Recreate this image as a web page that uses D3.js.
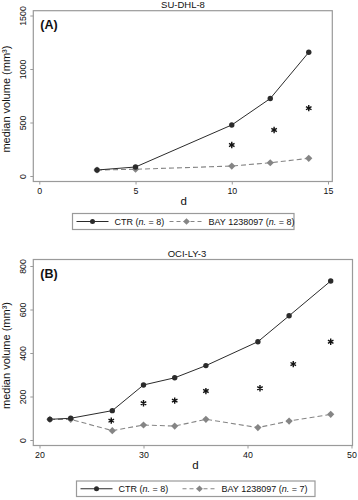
<!DOCTYPE html>
<html><head><meta charset="utf-8">
<script src="https://cdn.jsdelivr.net/npm/d3@7"></script>
<style>
html,body{margin:0;padding:0;background:#fff;}
svg{display:block;font-family:"Liberation Sans",Arial,Helvetica,sans-serif;}
</style></head>
<body><svg id="chart" width="358" height="500"></svg>
<script>
// ---- Data ----
const panelTitles = ["SU-DHL-8", "OCI-LY-3"];
const panelLetters = ["(A)", "(B)"];
const seriesNames = ["CTR", "BAY 1238097"];
const groupSizesA = [8, 8];
const groupSizesB = [8, 7];

const daysA = [3, 5, 10, 12, 14];
const ctrA = [56, 84, 477, 724, 1156];
const bayA = [56, 63, 93, 124, 165];
const starDaysA = [10, 12.2, 14];
const starValsA = [290, 430, 634];
const xTicksA = [0, 5, 10, 15];
const yTicksA = [0, 500, 1000, 1500];

const daysB = [21, 23, 27, 30, 33, 36, 41, 44, 48];
const ctrB = [95, 100, 135, 253, 286, 342, 452, 571, 731];
const bayB = [95, 95, 43, 69, 64, 95, 57, 87, 118];
const starDaysB = [26.9, 30, 33, 36, 41.2, 44.4, 48];
const starValsB = [89, 169, 181, 225, 238, 349, 452];
const xTicksB = [20, 30, 40, 50];
const yTicksB = [0, 200, 400, 600, 800];

const xLabel = "d";
const yLabel = "median volume (mm\u00B3)";

// ---- Drawing ----
const svg = d3.select("#chart");
const ctrColor = "#2b2b2b";
const bayColor = "#858585";
const frameColor = "#9a9a9a";

function drawPanel(p) {
  const g = svg.append("g");
  const x = d3.scaleLinear().domain(p.xDomain).range(p.xRange);
  const y = d3.scaleLinear().domain(p.yDomain).range(p.yRange);

  // plot frame
  g.append("rect").attr("x", p.box[0]).attr("y", p.box[1])
    .attr("width", p.box[2] - p.box[0]).attr("height", p.box[3] - p.box[1])
    .attr("fill", "none").attr("stroke", frameColor).attr("stroke-width", 1.2);

  // y axis
  const yAxis = d3.axisLeft(y).tickValues(p.yTicks).tickSize(3).tickPadding(4).tickFormat(d3.format("d"));
  const ya = g.append("g").attr("transform", `translate(${p.box[0]},0)`).call(yAxis);
  ya.select(".domain").remove();
  ya.selectAll(".tick line").attr("stroke", frameColor);
  ya.selectAll(".tick text")
    .attr("font-size", 8.8).attr("fill", "#111").attr("font-family", "Liberation Sans, Arial, sans-serif")
    .attr("text-anchor", "middle").attr("x", null).attr("dy", null)
    .attr("transform", "translate(-7,0) rotate(-90)");

  // x axis
  const xAxis = d3.axisBottom(x).tickValues(p.xTicks).tickSize(3).tickPadding(3).tickFormat(d3.format("d"));
  const xa = g.append("g").attr("transform", `translate(0,${p.box[3]})`).call(xAxis);
  xa.select(".domain").remove();
  xa.selectAll(".tick line").attr("stroke", frameColor);
  xa.selectAll(".tick text").attr("font-size", 8.8).attr("fill", "#111")
    .attr("font-family", "Liberation Sans, Arial, sans-serif");

  // titles
  g.append("text").attr("x", p.titleX).attr("y", p.titleY).attr("text-anchor", "middle")
    .attr("font-size", 9.5).attr("fill", "#111").text(p.title);
  g.append("text").attr("x", p.box[0] + 7).attr("y", p.box[1] + 18).attr("font-size", 12.5)
    .attr("font-weight", "bold").attr("fill", "#111").text(p.letter);
  g.append("text").attr("x", (p.xRange[0] + p.xRange[1]) / 2).attr("y", p.box[3] + 23)
    .attr("text-anchor", "middle").attr("font-size", 11.5).attr("fill", "#111").text(xLabel);
  g.append("text").attr("transform", `translate(10,${(p.box[1] + p.box[3]) / 2 + 3}) rotate(-90)`)
    .attr("text-anchor", "middle").attr("font-size", 11).attr("fill", "#111").text(yLabel);

  // lines
  const line = d3.line().x(d => x(d[0])).y(d => y(d[1]));
  const ctrPts = p.days.map((d, i) => [d, p.ctr[i]]);
  const bayPts = p.days.map((d, i) => [d, p.bay[i]]);
  g.append("path").attr("d", line(bayPts)).attr("fill", "none").attr("stroke", bayColor)
    .attr("stroke-width", 1.1).attr("stroke-dasharray", "5,3");
  g.append("path").attr("d", line(ctrPts)).attr("fill", "none").attr("stroke", ctrColor)
    .attr("stroke-width", 1);
  const diamond = d3.symbol().type(d3.symbolSquare).size(26);
  g.selectAll(".bay").data(bayPts).join("path")
    .attr("transform", d => `translate(${x(d[0])},${y(d[1])}) rotate(45)`)
    .attr("d", diamond()).attr("fill", bayColor);
  g.selectAll(".ctr").data(ctrPts).join("circle")
    .attr("cx", d => x(d[0])).attr("cy", d => y(d[1])).attr("r", 2.7).attr("fill", ctrColor);

  // significance stars
  const starPts = p.starDays.map((d, i) => [d, p.starVals[i]]);
  const astType = d3.symbolAsterisk || d3.symbolCross;
  const ast = d3.symbol().type(astType).size(28);
  g.selectAll(".star").data(starPts).join("path")
    .attr("transform", d => `translate(${x(d[0])},${y(d[1])})`)
    .attr("d", ast()).attr("fill", "none").attr("stroke", "#111").attr("stroke-width", 1.4);

  // legend
  const L = p.legend;
  const lg = g.append("g");
  lg.append("rect").attr("x", L.x).attr("y", L.y).attr("width", L.w).attr("height", L.h)
    .attr("fill", "#fff").attr("stroke", frameColor).attr("stroke-width", 1.2);
  const cy = L.y + L.h / 2;
  lg.append("line").attr("x1", L.x + 4).attr("x2", L.x + 36).attr("y1", cy).attr("y2", cy)
    .attr("stroke", ctrColor).attr("stroke-width", 1);
  lg.append("circle").attr("cx", L.x + 20).attr("cy", cy).attr("r", 2.5).attr("fill", ctrColor);
  const t1 = lg.append("text").attr("x", L.x + 42).attr("y", cy + 3.3).attr("font-size", 9).attr("fill", "#111");
  t1.append("tspan").text(seriesNames[0] + " (");
  t1.append("tspan").attr("font-style", "italic").text("n.");
  t1.append("tspan").text(" = " + p.n[0] + ")");
  lg.append("line").attr("x1", L.x + L.d).attr("x2", L.x + L.d + 34).attr("y1", cy).attr("y2", cy)
    .attr("stroke", bayColor).attr("stroke-width", 1.1).attr("stroke-dasharray", "4,3");
  lg.append("path").attr("transform", `translate(${L.x + L.d + 17},${cy}) rotate(45)`)
    .attr("d", d3.symbol().type(d3.symbolSquare).size(22)()).attr("fill", bayColor);
  const t2 = lg.append("text").attr("x", L.x + L.d + 39).attr("y", cy + 3.3).attr("font-size", 9).attr("fill", "#111");
  t2.append("tspan").text(seriesNames[1] + " (");
  t2.append("tspan").attr("font-style", "italic").text("n.");
  t2.append("tspan").text(" = " + p.n[1] + ")");
}

drawPanel({
  title: panelTitles[0], letter: panelLetters[0], titleX: 183, titleY: 8,
  box: [33.3, 10.7, 332.3, 181.5],
  xDomain: [0, 15], xRange: [39.3, 328], yDomain: [0, 1500], yRange: [176, 15.5],
  xTicks: xTicksA, yTicks: yTicksA,
  days: daysA, ctr: ctrA, bay: bayA, starDays: starDaysA, starVals: starValsA,
  n: groupSizesA,
  legend: { x: 72.5, y: 213.5, w: 221.5, h: 16, d: 97 }
});

drawPanel({
  title: panelTitles[1], letter: panelLetters[1], titleX: 187, titleY: 257,
  box: [33.3, 259.5, 352.5, 445.5],
  xDomain: [20, 50], xRange: [39.5, 351.5], yDomain: [0, 800], yRange: [440, 266],
  xTicks: xTicksB, yTicks: yTicksB,
  days: daysB, ctr: ctrB, bay: bayB, starDays: starDaysB, starVals: starValsB,
  n: groupSizesB,
  legend: { x: 76.5, y: 481, w: 238.5, h: 15.5, d: 106 }
});
</script>
</body></html>
